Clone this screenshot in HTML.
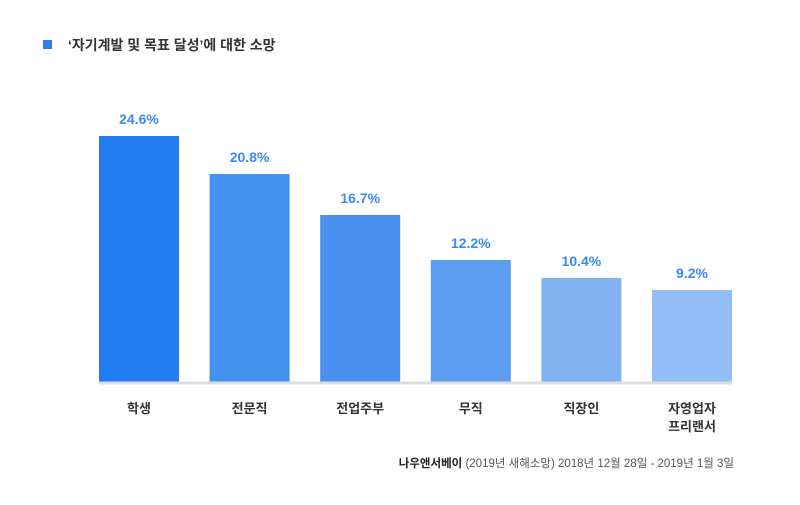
<!DOCTYPE html>
<html><head><meta charset="utf-8"><style>
body{margin:0;width:800px;height:500px;background:#fff;overflow:hidden;font-family:"Liberation Sans","Noto Sans CJK KR",sans-serif}
</style></head><body>
<svg width="800" height="500" font-family="Liberation Sans, Noto Sans CJK KR, sans-serif">
<rect x="43" y="40" width="9" height="9" fill="#2f80ed"/>
<text x="68" y="50" font-size="14" font-weight="bold" fill="#333">‘자기계발 및 목표 달성’에 대한 소망</text>
<g id="bars"></g>
<line x1="99" y1="383" x2="732" y2="383" stroke="#ddd" stroke-width="3"/>
<text x="734" y="467" font-size="11.5" fill="#555" text-anchor="end"><tspan font-weight="bold" fill="#222">나우앤서베이</tspan> (2019년 새해소망) 2018년 12월 28일 - 2019년 1월 3일</text>
</svg>
<script>
const categories=[["학생"],["전문직"],["전업주부"],["무직"],["직장인"],["자영업자","프리랜서"]];
const values=[24.6,20.8,16.7,12.2,10.4,9.2];
const colors=["#227cf0","#4591ef","#4a91ee","#5c9df1","#80b2f2","#93bef5"];
const g=document.getElementById('bars');
const NS="http://www.w3.org/2000/svg";
const x0=99,step=110.6,bw=80,base=382,scale=10;
const y=v=>base-v*scale;
values.forEach((v,i)=>{
 const x=x0+i*step;
 const r=document.createElementNS(NS,'rect');
 r.setAttribute('x',x);r.setAttribute('y',y(v));r.setAttribute('width',bw);r.setAttribute('height',base-y(v));r.setAttribute('fill',colors[i]);
 
 
 g.appendChild(r);
 const t=document.createElementNS(NS,'text');
 t.setAttribute('x',x+bw/2);t.setAttribute('y',y(v)-12);t.setAttribute('text-anchor','middle');t.setAttribute('font-size','14');t.setAttribute('font-weight','bold');t.setAttribute('fill','#3a8af0');
 t.textContent=v.toFixed(1)+'%';
 
 
 g.appendChild(t);
 categories[i].forEach((c,j)=>{
  const l=document.createElementNS(NS,'text');
  l.setAttribute('x',x+bw/2);l.setAttribute('y',413+j*18);l.setAttribute('text-anchor','middle');l.setAttribute('font-size','13');l.setAttribute('font-weight','bold');l.setAttribute('fill','#333');
  l.textContent=c;
  
  
  g.appendChild(l);
 });
});
</script>
</body></html>
